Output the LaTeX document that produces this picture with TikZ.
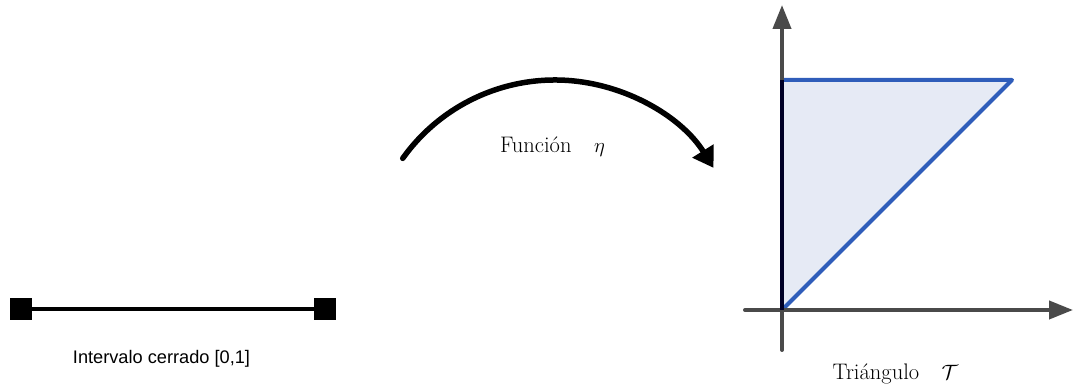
\documentclass[tikz,border=0pt]{standalone}
\usepackage{fontspec}
\newfontfamily\arialish{Liberation Sans}
\usetikzlibrary{arrows.meta}
\definecolor{axisgray}{HTML}{4A4A4A}
\definecolor{triblue}{HTML}{2F5DBA}
\definecolor{trifill}{HTML}{E6EAF5}
\tikzset{
  endsq/.style={draw=none,fill=black,minimum size=22pt,inner sep=0pt},
  sanslabel/.style={font=\arialish\fontsize{18.2pt}{20pt}\selectfont,inner sep=0pt},
  seriflabel/.style={font=\fontsize{22.5pt}{26pt}\selectfont,inner sep=0pt},
  axisline/.style={axisgray,line width=4pt,line cap=round,-{Triangle[length=24pt,width=18pt]}},
  mapline/.style={black,line width=5.5pt,line cap=round,-{Triangle[length=20pt,width=24pt]}},
}
\begin{document}
\begin{tikzpicture}[x=1pt,y=1pt]
\useasboundingbox (0,0) rectangle (1075,387);
% interval
\node[endsq] (sqL) at (21,78) {};
\node[endsq] (sqR) at (325,78) {};
\draw[line width=4pt] (sqL.center) -- (sqR.center);
\node[sanslabel,anchor=base] (ilab) at (161.5,23) {Intervalo cerrado [0,1]};
% map arrow
\coordinate (arcS) at (402.7,228.6);
\draw[mapline] (arcS) arc[start angle=144.5,end angle=32,radius=187pt];
\node[seriflabel,anchor=base] (flab) at (552.5,234) {Función\quad$\eta$};
% triangle
\coordinate (O) at (782,77);
\coordinate (TL) at (782,307);
\coordinate (TR) at (1012,307);
\coordinate (xS) at (745,77);
\coordinate (xE) at (1073,77);
\coordinate (yS) at (782,37);
\coordinate (yE) at (782,382);
\fill[trifill] (O) -- (TL) -- (TR) -- cycle;
\draw[triblue,line width=4pt,line join=round,line cap=round] (TL) -- (TR) -- (O);
\draw[axisline] (xS) -- (xE);
\draw[axisline] (yS) -- (yE);
\draw[black!85!blue,line width=4pt] (O) -- (TL);
\node[seriflabel,anchor=base] (tlab) at (895.5,7) {Triángulo\quad$\mathcal{T}$};
\end{tikzpicture}
\end{document}
